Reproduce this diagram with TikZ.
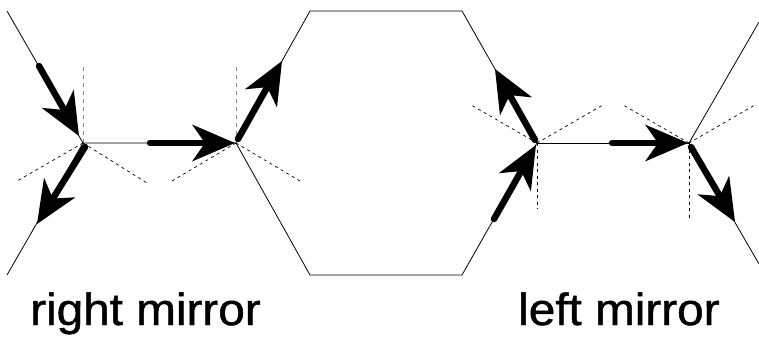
\documentclass[tikz,border=0pt]{standalone}
\usepackage{fontspec}
\setmainfont{Liberation Sans}
\newfontfamily\lblfont{Liberation Sans}[FakeBold=1.0]
\usetikzlibrary{calc}
\tikzset{
  pics/rayhead/.style={code={\fill[black] (0,0) -- (-43,18.5) -- (-30,0) -- (-43,-18.5) -- cycle;}},
  shaft/.style={line width=6.5pt,line cap=round}
}
\newcommand\rayto[2]{%
  \draw[shaft] (#1) -- ($(#2)!32pt!(#1)$);
  \path let \p1=($(#2)-(#1)$), \n1={atan2(\y1,\x1)} in (#2) pic[rotate=\n1]{rayhead};}
\begin{document}
\begin{tikzpicture}[x=1pt,y=-1pt,
  mirror/.style={line width=0.8pt,black},
  normal/.style={dash pattern=on 3pt off 3.5pt,line width=0.7pt,black},
  normalg/.style={dash pattern=on 4pt off 4pt,line width=1pt,gray},
  lbl/.style={anchor=base west,inner sep=0pt,font=\lblfont\fontsize{45}{54}\selectfont,xscale=1.06}]
\useasboundingbox (0,0) rectangle (759,343);
% vertices
\coordinate (A) at (83,143);
\coordinate (B) at (236,143);
\coordinate (C) at (537,143);
\coordinate (D) at (689,143);
\coordinate (LT) at (7,11);
\coordinate (LB) at (7,275);
\coordinate (HTL) at (310,11);
\coordinate (HTR) at (462,11);
\coordinate (HBL) at (310,275);
\coordinate (HBR) at (462,275);
\coordinate (RT) at (759,22);
\coordinate (RB) at (759,264);
% mirror lines
\draw[mirror] (LT) -- (A) -- (LB);
\draw[mirror] (A) -- (B) -- (HTL) -- (HTR) -- (C) -- (HBR) -- (HBL) -- (B);
\draw[mirror] (C) -- (D);
\draw[mirror] (RT) -- (D) -- (RB);
% normals
\draw[normalg] (A) -- ++(0,-76);
\draw[normal] (A) -- ++(-65,37.5);
\draw[normal] (A) -- ++(64,40);
\draw[normalg] (B) -- ++(0,-76);
\draw[normal] (B) -- ++(-64,38);
\draw[normal] (B) -- ++(64,38);
\draw[normal] (C) -- ++(-65,-37.5);
\draw[normal] (C) -- ++(65,-37.5);
\draw[normal] (C) -- ++(0,66);
\draw[normal] (D) -- ++(-65,-37.5);
\draw[normal] (D) -- ++(65,-37.5);
\draw[normal] (D) -- ++(0,75);
% ray end points
\coordinate (r1s) at ($(A)+(-44,-77)$);  \coordinate (r1t) at ($(A)+(-4,-7)$);
\coordinate (r2s) at ($(A)+(2,4)$);      \coordinate (r2t) at ($(A)+(-46,81)$);
\coordinate (r3s) at ($(A)+(67,0)$);     \coordinate (r3t) at ($(B)+(-1,0)$);
\coordinate (r4s) at ($(B)+(2,-4)$);     \coordinate (r4t) at ($(B)+(46,-82)$);
\coordinate (r5s) at ($(C)+(-43,76)$);   \coordinate (r5t) at ($(C)+(-1,2)$);
\coordinate (r6s) at ($(C)+(-2,-3)$);    \coordinate (r6t) at ($(C)+(-42,-74)$);
\coordinate (r7s) at ($(C)+(75,0)$);     \coordinate (r7t) at ($(D)+(-1,0)$);
\coordinate (r8s) at ($(D)+(2,4)$);      \coordinate (r8t) at ($(D)+(46,79)$);
% rays
\rayto{r1s}{r1t}
\rayto{r2s}{r2t}
\rayto{r3s}{r3t}
\rayto{r4s}{r4t}
\rayto{r5s}{r5t}
\rayto{r6s}{r6t}
\rayto{r7s}{r7t}
\rayto{r8s}{r8t}
% labels
\node[lbl] (rm) at (30,325) {right mirror};
\node[lbl] (lm) at (518,325) {left mirror};
\end{tikzpicture}
\end{document}
